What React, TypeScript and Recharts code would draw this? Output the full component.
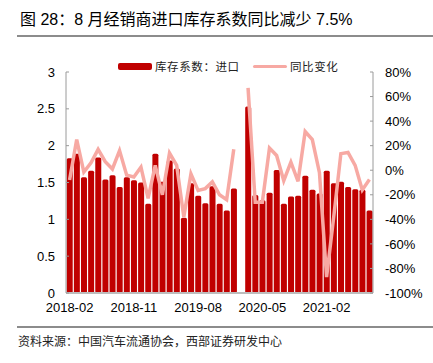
import React from 'react';
import { ComposedChart, Bar, Line, XAxis, YAxis } from 'recharts';

const months = [
  '2018-02', '2018-03', '2018-04', '2018-05', '2018-06', '2018-07', '2018-08', '2018-09', '2018-10', '2018-11',
  '2018-12', '2019-01', '2019-02', '2019-03', '2019-04', '2019-05', '2019-06', '2019-07', '2019-08', '2019-09',
  '2019-10', '2019-11', '2019-12', '2020-01', '2020-02', '2020-03', '2020-04', '2020-05', '2020-06', '2020-07',
  '2020-08', '2020-09', '2020-10', '2020-11', '2020-12', '2021-01', '2021-02', '2021-03', '2021-04', '2021-05',
  '2021-06', '2021-07', '2021-08',
];

// 库存系数：进口
const coef = [
  1.83, 1.89, 1.57, 1.66, 1.84, 1.54, 1.6, 1.44, 1.57, 1.53,
  1.5, 1.21, 1.89, 1.51, 1.8, 1.69, 1.02, 1.49, 1.32, 1.22,
  1.45, 1.21, 1.12, 1.42, null, 2.53, 1.33, 1.26, 1.36, 1.67,
  1.21, 1.31, 1.32, 1.59, 1.4, 1.35, 1.66, 1.49, 1.51, 1.44,
  1.41, 1.4, 1.12,
];

// 同比变化 (%)
const yoy = [
  -8, 25, -1.5, 6, 17, 7, 1, 16, -4, -5.5,
  2.5, -23, 4, -20, 14, 4, -38, -3, -16.5, -15,
  -9.5, -20, -24, 17, null, 67, -26, -26, 18, 12,
  -8.5, 6.5, -9, 31.5, 25, -2, -87, -38, 13.5, 14.5,
  4, -16, -7.5,
];

const leftTicks = [0, 0.5, 1, 1.5, 2, 2.5, 3];
const rightTicks = [-100, -80, -60, -40, -20, 0, 20, 40, 60, 80];

const BAR_COLOR = '#C00000';
const LINE_COLOR = '#F7A9A3';
const AXIS_COLOR = '#9a9a9a';
const TICK_FONT = { fontSize: 13, fill: '#000', fontFamily: 'Liberation Sans, Arial, sans-serif' };
const CJK = '"Noto Sans CJK SC", sans-serif';

const data = months.map((m, i) => ({ month: m, coef: coef[i], yoy: yoy[i] }));

// legend drawn as plain html over the chart so it takes no room from the plot
const LegendBox = () => (
  <div style={{ position: 'absolute', left: 0, top: 58, width: 433, height: 16, fontFamily: CJK, fontSize: 11.5, color: '#222' }}>
    <div style={{ position: 'absolute', left: 118, top: 5, width: 34, height: 7, background: BAR_COLOR, borderRadius: 2 }} />
    <div style={{ position: 'absolute', left: 155, top: 0, lineHeight: '16px', letterSpacing: 0.6 }}>库存系数：进口</div>
    <div style={{ position: 'absolute', left: 253, top: 7, width: 34, height: 3, background: LINE_COLOR, borderRadius: 2 }} />
    <div style={{ position: 'absolute', left: 290, top: 0, lineHeight: '16px', letterSpacing: 0.6 }}>同比变化</div>
  </div>
);

export default function App() {
  return (
    <div style={{ position: 'absolute', left: 0, top: 0, width: 433, height: 363, background: '#fff' }}>
      <div
        style={{
          position: 'absolute', left: 20, top: 9, fontSize: 16, lineHeight: '22px', color: '#000',
          fontFamily: 'Liberation Sans, "Noto Sans CJK SC", sans-serif', whiteSpace: 'nowrap',
        }}
      >
        图 28：8 月经销商进口库存系数同比减少 7.5%
      </div>
      <div style={{ position: 'absolute', left: 17, top: 35, width: 416, height: 2, background: '#8c8c8c' }} />

      <div style={{ position: 'absolute', left: 0, top: 0 }}>
        <ComposedChart
          width={433}
          height={363}
          data={data}
          margin={{ top: 72, right: 0, bottom: 40, left: 6 }}
          barCategoryGap="10%"
        >
          <XAxis
            dataKey="month"
            interval={8}
            tickLine={false}
            tickSize={0}
            tickMargin={10}
            axisLine={{ stroke: '#bdbdbd', strokeWidth: 2 }}
            tick={TICK_FONT}
            height={30}
          />
          <YAxis
            yAxisId="left"
            orientation="left"
            domain={[0, 3]}
            ticks={leftTicks}
            width={60}
            tickSize={-3}
            tickMargin={14}
            axisLine={{ stroke: AXIS_COLOR }}
            tickLine={{ stroke: AXIS_COLOR }}
            tick={TICK_FONT}
          />
          <YAxis
            yAxisId="right"
            orientation="right"
            domain={[-100, 80]}
            ticks={rightTicks}
            width={60}
            tickSize={-3}
            tickMargin={15}
            axisLine={{ stroke: AXIS_COLOR }}
            tickLine={{ stroke: AXIS_COLOR }}
            tick={TICK_FONT}
            tickFormatter={(v: number) => `${v}%`}
          />
          <Bar yAxisId="left" dataKey="coef" fill={BAR_COLOR} radius={[1.5, 1.5, 1.5, 1.5]} isAnimationActive={false} />
          <Line
            yAxisId="right"
            dataKey="yoy"
            type="linear"
            stroke={LINE_COLOR}
            strokeWidth={3.5}
            dot={false}
            activeDot={false}
            connectNulls={false}
            isAnimationActive={false}
          />
        </ComposedChart>
      </div>
      <LegendBox />

      <div style={{ position: 'absolute', left: 17, top: 326, width: 416, height: 2, background: '#8c8c8c' }} />
      <div
        style={{
          position: 'absolute', left: 18, top: 333, fontSize: 12, lineHeight: '16px', color: '#222',
          fontFamily: CJK, whiteSpace: 'nowrap',
        }}
      >
        资料来源：中国汽车流通协会，西部证券研发中心
      </div>
    </div>
  );
}
